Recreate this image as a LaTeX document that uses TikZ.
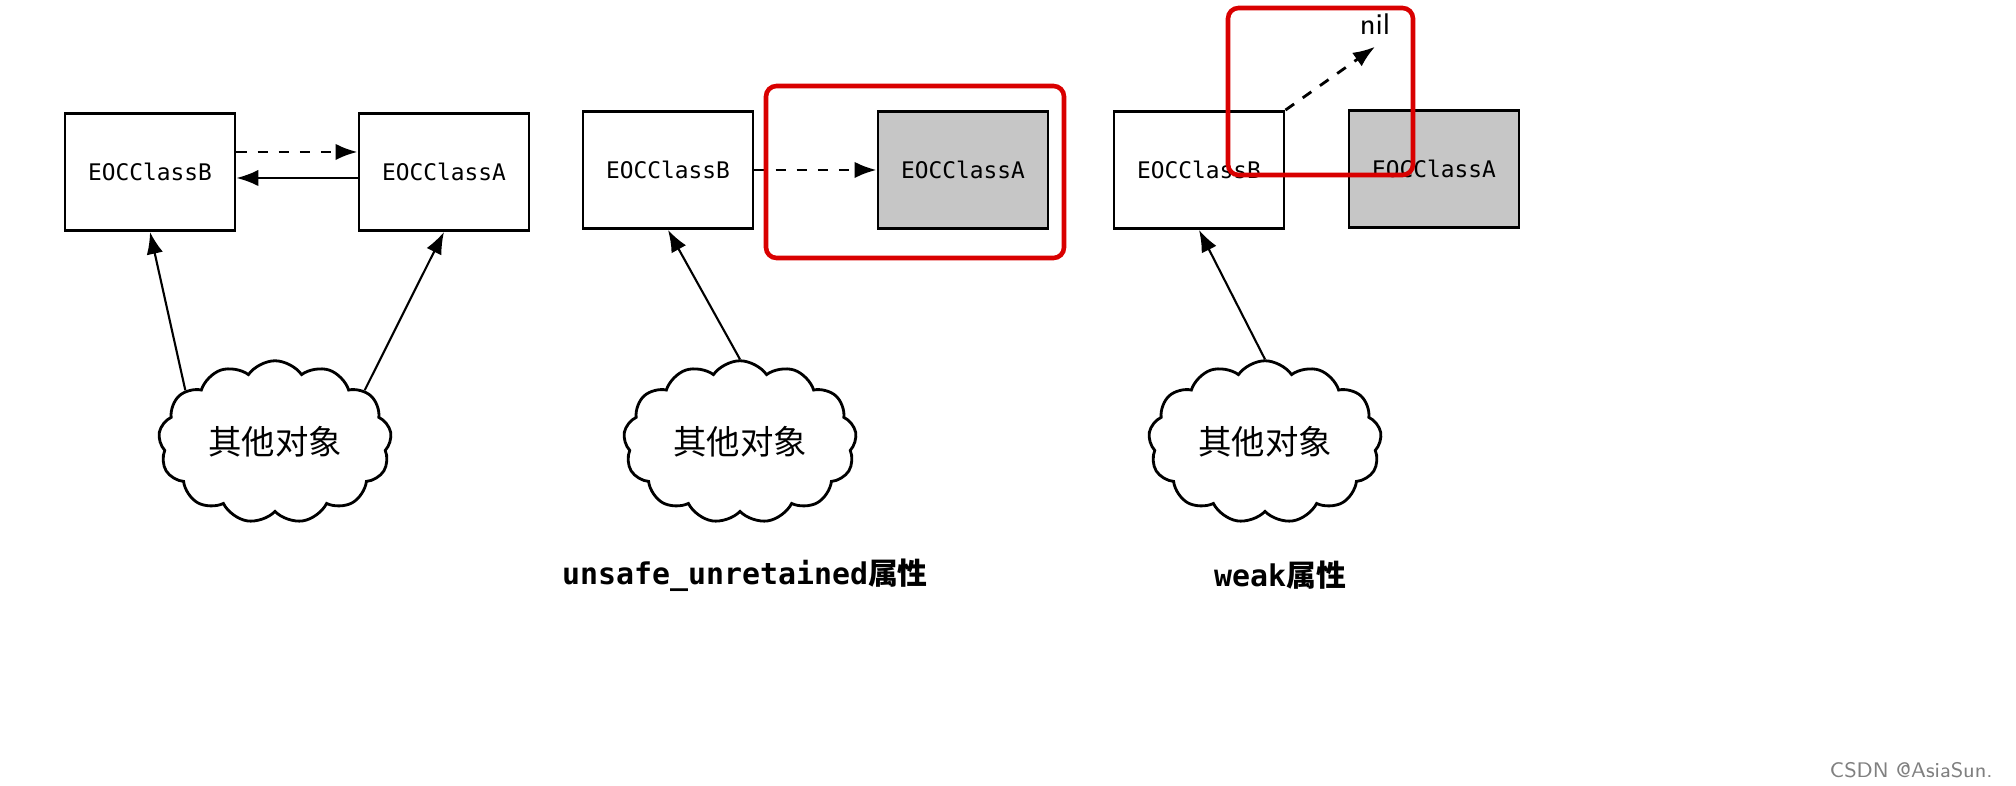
\documentclass[tikz,border=0pt]{standalone}
\usepackage{fontspec}
\setmonofont{DejaVu Sans Mono}
\newfontfamily\cjk{Noto Sans CJK SC}
\usetikzlibrary{shapes.symbols,arrows.meta}
\tikzset{
  objbox/.style={draw, thick, minimum width=1.7cm, minimum height=1.17cm,
    font=\fontsize{6.5}{8}\ttfamily, fill=white},
  gonebox/.style={objbox, fill=gray!45},
  others/.style={cloud, draw, thick, cloud puffs=13, cloud puff arc=110, aspect=1.6,
    minimum width=2.2cm, minimum height=1.45cm, font=\fontsize{9.5}{11}\cjk},
  strong/.style={-{Latex[length=2.2mm]}, semithick},
  weakref/.style={-{Latex[length=2.2mm]}, thick, dashed},
  mark box/.style={draw=red!85!black, line width=1.3pt, rounded corners=3pt},
  caption/.style={font=\fontsize{8.5}{10}\ttfamily\bfseries}
}
\begin{document}
\begin{tikzpicture}[x=0.01cm,y=-0.01cm]
\useasboundingbox (0,0) rectangle (2016,786);
% strong cycle
\node[objbox] (b1) at (150,172) {EOCClassB};
\node[objbox] (a1) at (444,172) {EOCClassA};
\draw[weakref] ([yshift=2mm]b1.east) -- ([yshift=2mm]a1.west);
\draw[strong] ([yshift=-0.6mm]a1.west) -- ([yshift=-0.6mm]b1.east);
\node[others] (c1) at (275,442) {其他对象};
\draw[strong] (c1.150) -- (b1.south);
\draw[strong] (c1.30) -- (a1.south);
% unsafe_unretained
\node[objbox] (b2) at (668,170) {EOCClassB};
\node[gonebox] (a2) at (963,170) {EOCClassA};
\draw[weakref] (b2.east) -- (a2.west);
\node[others] (c2) at (740,442) {其他对象};
\draw[strong] (c2.north) -- (b2.south);
\draw[mark box] (766,86) rectangle (1064,258);
\node[caption] (l2) at (745,575) {unsafe\_unretained{\cjk 属性}};
% weak
\node[objbox] (b3) at (1199,170) {EOCClassB};
\node[gonebox] (a3) at (1434,169) {EOCClassA};
\node[font=\fontsize{8.5}{10}\sffamily] (nil) at (1375,24) {nil};
\draw[weakref] (b3.north east) -- (nil.south);
\node[others] (c3) at (1265,442) {其他对象};
\draw[strong] (c3.north) -- (b3.south);
\draw[mark box] (1228,8) rectangle (1413,175);
\node[caption] (l3) at (1280,575) {weak{\cjk 属性}};
\node[font=\fontsize{6}{7}\sffamily, text=gray, anchor=east] (src) at (2005,770) {CSDN @AsiaSun.};
\end{tikzpicture}
\end{document}
